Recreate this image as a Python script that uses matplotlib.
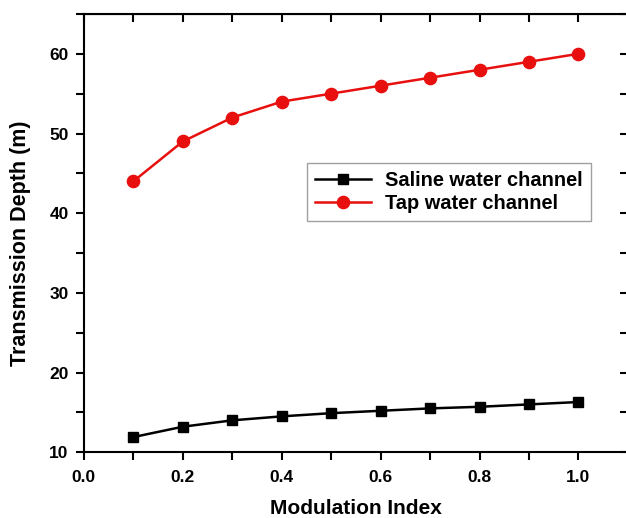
import numpy as np
import matplotlib
matplotlib.use('Agg')
from matplotlib import pyplot as plt
from matplotlib.ticker import MultipleLocator

modulation_index = [0.1, 0.2, 0.3, 0.4, 0.5, 0.6, 0.7, 0.8, 0.9, 1.0]
saline_depth = [11.9, 13.2, 14.0, 14.5, 14.9, 15.2, 15.5, 15.7, 16.0, 16.3]
tap_depth = [44, 49, 52, 54, 55, 56, 57, 58, 59, 60]

plt.rcParams['font.family'] = ['Liberation Sans', 'DejaVu Sans']
plt.rcParams['font.weight'] = 'bold'

fig = plt.figure(figsize=(6.26, 5.18), dpi=100)
# right spine sits just past the picture edge, as in the original
ax = fig.add_axes([0.134, 0.127, 0.869, 0.846])

ax.plot(modulation_index, saline_depth, color='black', lw=1.8,
        marker='s', ms=7.5, label='Saline water channel')
ax.plot(modulation_index, tap_depth, color='#e8100f', lw=1.8,
        marker='o', ms=8.8, label='Tap water channel')

ax.set_xlim(0, 1.1)
ax.set_ylim(10, 65)
ax.xaxis.set_major_locator(MultipleLocator(0.2))
ax.xaxis.set_minor_locator(MultipleLocator(0.1))
ax.yaxis.set_major_locator(MultipleLocator(10))
ax.yaxis.set_minor_locator(MultipleLocator(5))
ax.xaxis.set_major_formatter(plt.FormatStrFormatter('%.1f'))

for s in ax.spines.values():
    s.set_linewidth(1.5)

ax.tick_params(which='both', direction='out', length=6, width=1.5,
               labelsize=12.5)
ax.tick_params(axis='x', pad=7)
ax.tick_params(axis='y', pad=5)

top = ax.secondary_xaxis('top')
top.xaxis.set_major_locator(MultipleLocator(0.1))
top.tick_params(direction='in', length=6, width=1.5, labeltop=False)
right = ax.secondary_yaxis('right')
right.yaxis.set_major_locator(MultipleLocator(5))
right.tick_params(direction='in', length=6, width=1.5, labelright=False)

ax.set_xlabel('Modulation Index', fontsize=15, fontweight='bold')
ax.xaxis.set_label_coords(0.50, -0.107)
ax.set_ylabel('Transmission Depth (m)', fontsize=15.5, fontweight='bold')
ax.yaxis.set_label_coords(-0.098, 0.477)

leg = ax.legend(loc='upper left', bbox_to_anchor=(0.411, 0.66), fontsize=14.4,
                frameon=True, fancybox=False, edgecolor='#888888',
                handlelength=2.8, handletextpad=0.7, borderpad=0.4,
                labelspacing=0.22, borderaxespad=0)
leg.get_frame().set_linewidth(1.0)

fig.savefig('out.png', dpi=100)
